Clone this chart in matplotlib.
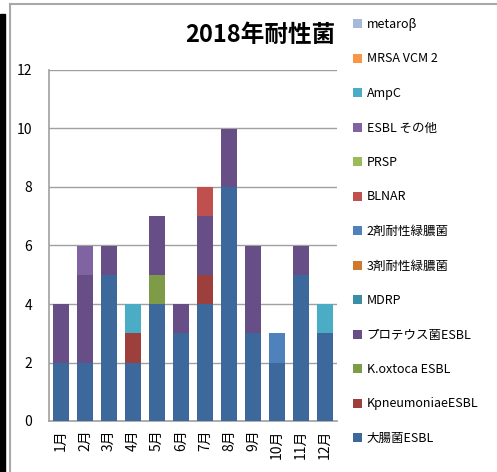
import numpy as np
import matplotlib.pyplot as plt
from matplotlib.patches import Rectangle, Patch
from matplotlib.lines import Line2D

plt.rcParams['font.family'] = ['Noto Sans CJK JP', 'DejaVu Sans']

months = ["1月", "2月", "3月", "4月", "5月", "6月", "7月", "8月", "9月", "10月", "11月", "12月"]

# 積み上げ順（下から）
series_names = ["大腸菌ESBL", "KpneumoniaeESBL", "K.oxtoca ESBL", "プロテウス菌ESBL",
                "MDRP", "3剤耐性緑膿菌", "2剤耐性緑膿菌", "BLNAR", "PRSP",
                "ESBL その他", "AmpC", "MRSA VCM 2", "metaroβ"]

ecoli_esbl    = [2, 2, 5, 2, 4, 3, 4, 8, 3, 2, 5, 3]
kpneumo_esbl  = [0, 0, 0, 1, 0, 0, 1, 0, 0, 0, 0, 0]
koxytoca_esbl = [0, 0, 0, 0, 1, 0, 0, 0, 0, 0, 0, 0]
proteus_esbl  = [2, 3, 1, 0, 2, 1, 2, 2, 3, 0, 1, 0]
mdrp          = [0, 0, 0, 0, 0, 0, 0, 0, 0, 0, 0, 0]
pa_3          = [0, 0, 0, 0, 0, 0, 0, 0, 0, 0, 0, 0]
pa_2          = [0, 0, 0, 0, 0, 0, 0, 0, 0, 1, 0, 0]
blnar         = [0, 0, 0, 0, 0, 0, 1, 0, 0, 0, 0, 0]
prsp          = [0, 0, 0, 0, 0, 0, 0, 0, 0, 0, 0, 0]
esbl_other    = [0, 1, 0, 0, 0, 0, 0, 0, 0, 0, 0, 0]
ampc          = [0, 0, 0, 1, 0, 0, 0, 0, 0, 0, 0, 1]
mrsa_vcm2     = [0, 0, 0, 0, 0, 0, 0, 0, 0, 0, 0, 0]
metaro        = [0, 0, 0, 0, 0, 0, 0, 0, 0, 0, 0, 0]

values = [ecoli_esbl, kpneumo_esbl, koxytoca_esbl, proteus_esbl, mdrp, pa_3, pa_2,
          blnar, prsp, esbl_other, ampc, mrsa_vcm2, metaro]

colors = ["#3D689B", "#9C3F3D", "#7E9B47", "#684E86", "#3A8FA4", "#D0782E", "#4F81BD",
          "#C0504D", "#9BBB59", "#8064A2", "#4BACC6", "#F79646", "#A7B9DB"]

fig = plt.figure(figsize=(4.97, 4.72), dpi=100)
ax = fig.add_axes([49/497, 51/472, 288/497, 351/472])

x = np.arange(len(months))
bottom = np.zeros(len(months))
for name, v, c in zip(series_names, values, colors):
    v = np.array(v, dtype=float)
    ax.bar(x, v, width=0.63, bottom=bottom, color=c, label=name, zorder=3)
    bottom += v

ax.set_xlim(-0.5, 11.5)
ax.set_ylim(0, 12)
ax.set_yticks(range(0, 13, 2))
ax.set_xticks(x)
ax.set_xticklabels(months, rotation=90, fontsize=10)
ax.tick_params(axis='y', length=0, labelsize=10, pad=12)
ax.tick_params(axis='x', length=0, pad=6)
ax.grid(axis='y', color='#A0A0A0', linewidth=1, zorder=0)
for s in ['top', 'right']:
    ax.spines[s].set_visible(False)
for s in ['left', 'bottom']:
    ax.spines[s].set_color('#A0A0A0')
    ax.spines[s].set_linewidth(1.2)

# タイトル
fig.text(335/497, 1 - 35/472, "2018年耐性菌", ha='right', va='center',
         fontsize=17, fontweight='bold')

# 凡例（逆順）
handles = [Patch(facecolor=c, label=n) for n, c in zip(series_names, colors)][::-1]
fig.legend(handles=handles, loc='upper left', bbox_to_anchor=(348/497, 1 - 13/472),
           frameon=False, fontsize=9, handlelength=0.7, handleheight=0.7,
           handletextpad=0.4, labelspacing=1.72, borderaxespad=0)

# 枠線など
fig.add_artist(Line2D([9.5/497, 9.5/497], [0, 1 - 4/472], color='#A8A8A8', lw=1.5))
fig.add_artist(Line2D([9.5/497, 1], [1 - 4/472, 1 - 4/472], color='#A8A8A8', lw=1.5))
fig.add_artist(Rectangle((0, 0), 5/497, 1 - 14/472, transform=fig.transFigure,
                         color='black'))

fig.savefig("out.png", dpi=100)
